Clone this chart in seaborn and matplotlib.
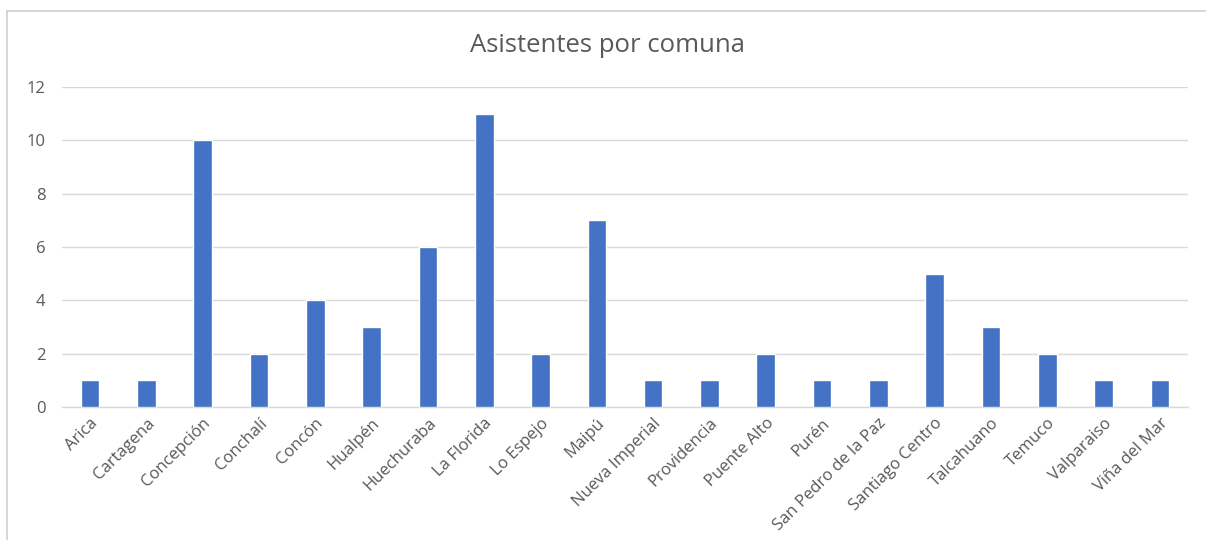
import matplotlib
matplotlib.use("Agg")
import matplotlib.pyplot as plt
import seaborn as sns
import pandas as pd
from matplotlib.lines import Line2D

comunas = ["Arica", "Cartagena", "Concepción", "Conchalí", "Concón", "Hualpén",
           "Huechuraba", "La Florida", "Lo Espejo", "Maipú", "Nueva Imperial",
           "Providencia", "Puente Alto", "Purén", "San Pedro de la Paz",
           "Santiago Centro", "Talcahuano", "Temuco", "Valparaiso", "Viña del Mar"]
asistentes = [1, 1, 10, 2, 4, 3, 6, 11, 2, 7, 1, 1, 2, 1, 1, 5, 3, 2, 1, 1]
yticks = [0, 2, 4, 6, 8, 10, 12]
title = "Asistentes por comuna"

sns.set_theme(style="white")
plt.rcParams["font.family"] = ["Open Sans", "DejaVu Sans"]

df = pd.DataFrame({"comuna": comunas, "asistentes": asistentes})

fig = plt.figure(figsize=(12.06, 5.4), dpi=100)
ax = fig.add_axes([62 / 1206, 1 - 407 / 540, (1188 - 62) / 1206, (407 - 87) / 540])

sns.barplot(data=df, x="comuna", y="asistentes", color="#4472C4", width=0.33,
            saturation=1, ax=ax, zorder=3)

ax.set_ylim(0, 12)
ax.set_yticks(yticks)
ax.set_xlim(-0.5, len(comunas) - 0.5)
ax.yaxis.grid(True, color="#D9D9D9", linewidth=1, zorder=0)
ax.set_axisbelow(True)
for s in ["top", "right", "left"]:
    ax.spines[s].set_visible(False)
ax.spines["bottom"].set_color("#D9D9D9")
ax.spines["bottom"].set_linewidth(1)
ax.set_xlabel("")
ax.set_ylabel("")
ax.tick_params(axis="both", length=0, labelsize=12, colors="#595959", pad=6)
ax.tick_params(axis="y", pad=12)
plt.setp(ax.get_xticklabels(), rotation=45, ha="right", rotation_mode="anchor")

fig.text(607 / 1206, 1 - 45 / 540, title, ha="center", va="center",
         fontsize=18.5, color="#595959")

# chart frame lines (top and left)
fig.add_artist(Line2D([7 / 1206, 1], [1 - 11 / 540, 1 - 11 / 540],
                      transform=fig.transFigure, color="#D0D0D0", linewidth=1.2))
fig.add_artist(Line2D([7 / 1206, 7 / 1206], [0, 1 - 11 / 540],
                      transform=fig.transFigure, color="#D0D0D0", linewidth=1.2))

fig.savefig("out.png", dpi=100)
